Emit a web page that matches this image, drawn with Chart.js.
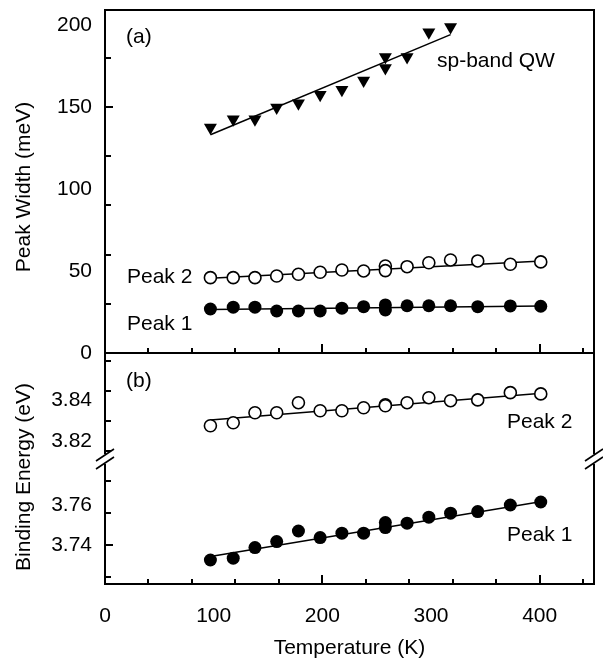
<!DOCTYPE html>
<html><head><meta charset="utf-8">
<script src="https://cdn.jsdelivr.net/npm/chart.js@4/dist/chart.umd.min.js"></script>
<style>html,body{margin:0;padding:0;background:#fff;}#wrap{width:603px;height:663px;}</style>
</head><body><div id="wrap"><canvas id="c" width="603" height="663"></canvas></div>
<script>
// ---- data ----
const temps = [97,118,138,158,178,198,218,238,258,258,278,298,318,343,373,401];
const tempsQW = [97,118,138,158,178,198,218,238,258,258,278,298,318];
const widthQW = [137.4,142.5,142.5,149.6,152.2,157.3,160.4,166.0,180.3,173.6,180.3,195.5,198.6];
const widthPeak2 = [45.9,45.9,45.9,46.9,48.0,49.2,50.6,50.0,53.0,50.2,52.6,55.0,56.7,56.1,54.1,55.5];
const widthPeak1 = [26.8,27.9,27.9,25.6,25.6,25.6,27.3,28.2,29.3,26.2,28.8,28.8,28.8,28.2,28.7,28.5];
const energyPeak2 = [3.8275,3.829,3.834,3.834,3.839,3.835,3.835,3.8365,3.838,3.8375,3.839,3.8415,3.840,3.8404,3.844,3.8434];
const energyPeak1 = [3.7325,3.7334,3.7387,3.7417,3.747,3.7437,3.7459,3.7459,3.7512,3.7487,3.7509,3.7539,3.7559,3.7567,3.760,3.7615];
// linear fits
const fitTemps = [97, 402];
const fitQWTemps = [97, 318];
const fitQW = [133, 194];
const fitWidthPeak2 = [45.5, 56.1];
const fitWidthPeak1 = [26.5, 28.7];
const fitEnergyPeak2 = [3.8304, 3.8437];
const fitEnergyPeak1 = [3.7343, 3.7617];
// tick labels
const xTickLabels = [0,100,200,300,400];
const widthTickLabels = [0,50,100,150,200];
const energyUpperTickLabels = [3.82,3.84];
const energyLowerTickLabels = [3.74,3.76];

const pts = (xs, ys) => xs.map((v,i)=>({x:v, y:ys[i]}));
const FONT = '21px "Liberation Sans", Arial, Helvetica, sans-serif';

function pointSet(xs, ys, axis, style) {
  return Object.assign({
    data: pts(xs, ys), yAxisID: axis, showLine: false, order: 0,
    pointBorderColor: '#000', pointBorderWidth: 1.5
  }, style);
}
function fitSet(xs, ys, axis) {
  return { data: pts(xs, ys), yAxisID: axis, showLine: true, pointRadius: 0,
    borderColor: '#000', borderWidth: 1.5, order: 1, tension: 0 };
}
const filled = {pointStyle:'circle', pointRadius:6.5, pointBackgroundColor:'#000', pointBorderWidth:0};
const open = {pointStyle:'circle', pointRadius:6, pointBackgroundColor:'#fff', pointBorderWidth:1.6};
const tri = {pointStyle:'triangle', rotation:180, pointRotation:180, pointRadius:7.5, pointBackgroundColor:'#000', pointBorderWidth:0};

const near = (arr, v) => arr.some(a => Math.abs(a - v) < 1e-6);

const framePlugin = {
  id: 'frame',
  afterDatasetsDraw(chart) {
    const ctx = chart.ctx;
    const {x, yW, yEU, yEL} = chart.scales;
    const {left: L, right: R, top: T, bottom: B} = chart.chartArea;
    const mid = Math.round(yW.bottom);
    const brk = yEU.bottom;
    ctx.save();
    ctx.strokeStyle = '#000';
    ctx.lineWidth = 2;
    ctx.beginPath();
    ctx.moveTo(L, brk - 5); ctx.lineTo(L, T - 1); 
    ctx.moveTo(L - 1, T); ctx.lineTo(R + 1, T);
    ctx.moveTo(R, T); ctx.lineTo(R, brk - 5);
    ctx.moveTo(L, brk + 5); ctx.lineTo(L, B + 1);
    ctx.moveTo(L - 1, B); ctx.lineTo(R + 1, B);
    ctx.moveTo(R, B); ctx.lineTo(R, brk + 5);
    ctx.moveTo(L, mid); ctx.lineTo(R, mid);
    ctx.stroke();
    // break marks
    ctx.lineWidth = 1.6;
    ctx.beginPath();
    [L, R].forEach(xx => {
      [-4, 4].forEach(d => {
        ctx.moveTo(xx - 9, brk + d + 6);
        ctx.lineTo(xx + 9, brk + d - 6);
      });
    });
    ctx.stroke();
    // y ticks (inward)
    ctx.lineWidth = 2;
    ctx.beginPath();
    const yTick = (scale, labels) => scale.ticks.forEach(t => {
      if (t.value === 0) return;
      const p = Math.round(scale.getPixelForValue(t.value));
      const len = near(labels, t.value) ? 8 : 6;
      ctx.moveTo(L, p); ctx.lineTo(L + len, p);
    });
    yTick(yW, widthTickLabels);
    yTick(yEU, energyUpperTickLabels);
    yTick(yEL, energyLowerTickLabels);
    // x ticks (upward) on middle divider and bottom axis
    x.ticks.forEach(t => {
      if (t.value === 0) return;
      const p = Math.round(x.getPixelForValue(t.value));
      const len = near(xTickLabels, t.value) ? 9 : 5;
      [mid, B].forEach(yy => { ctx.moveTo(p, yy); ctx.lineTo(p, yy - len); });
    });
    ctx.stroke();

    // tick labels
    ctx.fillStyle = '#000';
    ctx.font = FONT;
    ctx.textAlign = 'right';
    ctx.textBaseline = 'middle';
    widthTickLabels.forEach(v => ctx.fillText(String(v), L - 13, yW.getPixelForValue(v)));
    energyUpperTickLabels.forEach(v => ctx.fillText(v.toFixed(2), L - 13, yEU.getPixelForValue(v)));
    energyLowerTickLabels.forEach(v => ctx.fillText(v.toFixed(2), L - 13, yEL.getPixelForValue(v)));
    ctx.textAlign = 'center';
    ctx.textBaseline = 'top';
    xTickLabels.forEach(v => ctx.fillText(String(v), x.getPixelForValue(v), B + 22));

    // axis titles
    ctx.textBaseline = 'middle';
    ctx.fillText('Temperature (K)', (L + R) / 2, 648);
    ctx.save();
    ctx.translate(24, 187); ctx.rotate(-Math.PI / 2);
    ctx.fillText('Peak Width (meV)', 0, 0);
    ctx.restore();
    ctx.save();
    ctx.translate(24, 477); ctx.rotate(-Math.PI / 2);
    ctx.fillText('Binding Energy (eV)', 0, 0);
    ctx.restore();

    // annotations
    ctx.textAlign = 'left';
    ctx.fillText('(a)', 126, 37);
    ctx.fillText('(b)', 126, 381);
    ctx.fillText('sp-band QW', 437, 61);
    ctx.fillText('Peak 2', 127, 277);
    ctx.fillText('Peak 1', 127, 324);
    ctx.fillText('Peak 2', 507, 422);
    ctx.fillText('Peak 1', 507, 535);
    ctx.restore();
  }
};

new Chart(document.getElementById('c'), {
  type: 'scatter',
  data: {
    datasets: [
      pointSet(tempsQW, widthQW, 'yW', tri),
      pointSet(temps, widthPeak2, 'yW', open),
      pointSet(temps, widthPeak1, 'yW', filled),
      pointSet(temps, energyPeak2, 'yEU', open),
      pointSet(temps, energyPeak1, 'yEL', filled),
      fitSet(fitQWTemps, fitQW, 'yW'),
      fitSet(fitTemps, fitWidthPeak2, 'yW'),
      fitSet(fitTemps, fitWidthPeak1, 'yW'),
      fitSet(fitTemps, fitEnergyPeak2, 'yEU'),
      fitSet(fitTemps, fitEnergyPeak1, 'yEL')
    ]
  },
  options: {
    responsive: false,
    animation: false,
    events: [],
    layout: { padding: { left: 105, right: 9, top: 10, bottom: 79 } },
    plugins: { legend: { display: false }, tooltip: { enabled: false } },
    datasets: { scatter: { clip: false } },
    scales: {
      x: { type: 'linear', min: 0, max: 450, display: false, ticks: { stepSize: 20, includeBounds: false } },
      yW: { type: 'linear', position: 'left', stack: 'panels', stackWeight: 343, weight: 3,
            min: 0, max: 209, display: false, ticks: { stepSize: 10, includeBounds: false } },
      yEU: { type: 'linear', position: 'left', stack: 'panels', stackWeight: 106, weight: 2,
            min: 3.8109, max: 3.8638, display: false, ticks: { stepSize: 0.005, includeBounds: false } },
      yEL: { type: 'linear', position: 'left', stack: 'panels', stackWeight: 125, weight: 1,
            min: 3.7205, max: 3.783, display: false, ticks: { stepSize: 0.004, includeBounds: false } }
    }
  },
  plugins: [framePlugin]
});
</script>
</body></html>
